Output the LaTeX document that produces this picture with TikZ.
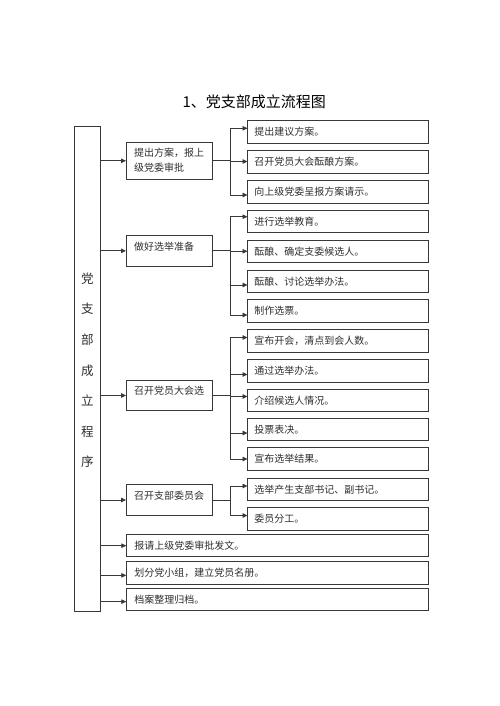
\documentclass[tikz,border=0pt]{standalone}
\usepackage{fontspec}
\setmainfont{Noto Sans CJK SC}
\usetikzlibrary{arrows.meta}
\definecolor{linec}{gray}{0.22}
\definecolor{textc}{gray}{0.18}
\begin{document}
\begin{tikzpicture}[x=1pt,y=-1pt,
  box/.style={draw=linec, line width=0.8pt, rectangle, inner sep=0pt, outer sep=0pt},
  rbox/.style={box, minimum width=181pt, minimum height=22.5pt, text width=167.5pt, inner xsep=6.75pt, align=left, font=\fontsize{10}{12}\selectfont, text=textc},
  lbox/.style={box, minimum width=86.7pt},
  longbox/.style={box, minimum width=302.4pt, minimum height=22.3pt, text width=286.4pt, inner xsep=8pt, align=left, font=\fontsize{10}{12}\selectfont, text=textc},
  ltxt/.style={inner sep=0pt, anchor=west, align=left, font=\fontsize{10}{14.6}\selectfont, text=textc},
  ctxt/.style={inner sep=0pt, font=\fontsize{12.5}{14}\selectfont, text=textc},
  arr/.style={draw=linec, line width=0.8pt, -{Triangle[length=5pt,width=4.5pt]}}]
\useasboundingbox (0,0) rectangle (500,706);
\fill[white] (0,0) rectangle (500,706);

% title
\node[inner sep=0pt, font=\fontsize{15}{18}\selectfont, text=black] (title) at (254.2,102.3) {1、党支部成立流程图};

% left column
\node[box, minimum width=26.7pt, minimum height=484.3pt] (col) at (87.35,368.85) {};
\node[ctxt] (c1) at (87.4,278.5) {党};
\node[ctxt] (c2) at (87.4,309.1) {支};
\node[ctxt] (c3) at (87.4,339.7) {部};
\node[ctxt] (c4) at (87.4,370.3) {成};
\node[ctxt] (c5) at (87.4,400.9) {立};
\node[ctxt] (c6) at (87.4,431.5) {程};
\node[ctxt] (c7) at (87.4,462.1) {序};

% left boxes
\node[lbox, minimum height=37pt] (g1) at (169.35,160.8) {};
\node[ltxt] (g1t) at (134,160) {提出方案，报上\\级党委审批};
\node[lbox, minimum height=30.3pt] (g2) at (169.35,250.85) {};
\node[ltxt] (g2t) at (134,246.7) {做好选举准备};
\node[lbox, minimum height=30.4pt] (g3) at (169.35,395.5) {};
\node[ltxt] (g3t) at (134,391) {召开党员大会选};
\node[lbox, minimum height=30.6pt] (g4) at (169.35,500) {};
\node[ltxt] (g4t) at (134,495.5) {召开支部委员会};

% right boxes
\node[rbox] (r1) at (338,132) {提出建议方案。};
\node[rbox] (r2) at (338,162) {召开党员大会酝酿方案。};
\node[rbox] (r3) at (338,191.7) {向上级党委呈报方案请示。};
\node[rbox] (r4) at (338,221.3) {进行选举教育。};
\node[rbox] (r5) at (338,251.3) {酝酿、确定支委候选人。};
\node[rbox] (r6) at (338,281.3) {酝酿、讨论选举办法。};
\node[rbox] (r7) at (338,310.7) {制作选票。};
\node[rbox] (r8) at (338,341) {宣布开会，清点到会人数。};
\node[rbox] (r9) at (338,370.7) {通过选举办法。};
\node[rbox] (r10) at (338,400.4) {介绍候选人情况。};
\node[rbox] (r11) at (338,429.4) {投票表决。};
\node[rbox] (r12) at (338,459) {宣布选举结果。};
\node[rbox] (r13) at (338,489.2) {选举产生支部书记、副书记。};
\node[rbox] (r14) at (338,519.1) {委员分工。};

% long boxes
\node[longbox] (l1) at (277.5,545.7) {报请上级党委审批发文。};
\node[longbox] (l2) at (277.5,572.85) {划分党小组，建立党员名册。};
\node[longbox] (l3) at (277.5,599.65) {档案整理归档。};

% column to left boxes
\draw[arr] (col.east |- g1.west) -- (g1.west);
\draw[arr] (col.east |- g2.west) -- (g2.west);
\draw[arr] (col.east |- g3.west) -- (g3.west);
\draw[arr] (col.east |- g4.west) -- (g4.west);
\draw[arr] (col.east |- l1.west) -- (l1.west);
\draw[arr] ([yshift=-2.5pt]l2.west) ++(-25.6,0) -- ([yshift=-2.5pt]l2.west);
\draw[arr] ([yshift=-2pt]l3.west) ++(-25.6,0) -- ([yshift=-2pt]l3.west);

% fork group 1
\draw[arr] (g1.east) -- ++(17.3,0) |- ([yshift=3.7pt]r1.west);
\draw[arr] (g1.east) -- ++(17.3,0) |- ([yshift=0.5pt]r2.west);
\draw[arr] (g1.east) -- ++(17.3,0) |- ([yshift=-3.3pt]r3.west);
% fork group 2
\draw[arr] (g2.east) -- ++(17.3,0) |- ([yshift=4.6pt]r4.west);
\draw[arr] (g2.east) -- ++(17.3,0) |- (r5.west);
\draw[arr] (g2.east) -- ++(17.3,0) |- ([yshift=-3.7pt]r6.west);
\draw[arr] (g2.east) -- ++(17.3,0) |- ([yshift=-4.3pt]r7.west);
% fork group 3
\draw[arr] (g3.east) -- ++(17.3,0) |- ([yshift=3.5pt]r8.west);
\draw[arr] (g3.east) -- ++(17.3,0) |- ([yshift=-3.8pt]r9.west);
\draw[arr] (g3.east) -- ++(17.3,0) |- ([yshift=3.9pt]r10.west);
\draw[arr] (g3.east) -- ++(17.3,0) |- ([yshift=-3.6pt]r11.west);
\draw[arr] (g3.east) -- ++(17.3,0) |- (r12.west);
% fork group 4
\draw[arr] (g4.east) -- ++(17.3,0) |- ([yshift=3.2pt]r13.west);
\draw[arr] (g4.east) -- ++(17.3,0) |- ([yshift=3.6pt]r14.west);
\end{tikzpicture}
\end{document}
